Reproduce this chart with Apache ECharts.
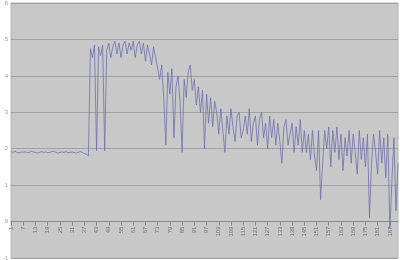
<!DOCTYPE html>
<html><head><meta charset="utf-8">
<script src="https://cdn.jsdelivr.net/npm/echarts@6/dist/echarts.min.js"></script>
<style>html,body{margin:0;padding:0;background:#fff}#c{width:400px;height:260px}</style>
</head><body><div id="c"></div>
<script>
const seg1 = [1.92,1.9,1.93,1.9,1.88,1.91,1.9,1.92,1.89,1.9,1.93,1.91,1.9,1.88,1.9,1.92,1.9,1.91,1.89,1.9,1.92,1.93,1.9,1.88,1.9,1.91,1.9,1.92,1.89,1.9,1.91,1.9,1.88,1.9,1.92,1.9,1.87,1.85,1.8];
const seg2 = [4.75,4.5,4.85,1.95,4.8,4.55,4.85,1.95,4.7,4.9,4.5,4.8,4.95,4.6,4.9,4.5,4.85,4.95,4.6,4.9,4.7,4.95,4.5,4.85,4.95,4.6,4.9,4.4,4.85,4.6,4.3,4.8,4.5,4.2];
const seg3 = [3.9,4.3,3.4,2.1,4.1,3.5,4.2,2.3,3.7,4.0,3.3,1.9,3.9,3.4,4.1,4.3,3.6,3.9,3.2,3.7,3.0,3.6,2.0,3.5,2.7,3.4,2.6,3.3];
const seg4 = [3.0,2.4,3.1,2.5,1.9,2.9,2.4,3.1,2.6,2.2,2.9,3.0,2.3,2.5,2.9,2.4,3.1,2.2,2.7,2.9,2.1,2.8,3.0,2.3,2.7,2.0,2.9,2.3,2.8,2.1,2.7,2.2,1.6,2.6,2.8,2.1,2.4,2.7,1.9,2.6,2.1,2.8,1.9];
const seg5 = [2.5,1.9,2.4,1.7,2.5,1.8,1.4,2.5,0.6,1.6,2.5,2.0,2.6,1.5,2.5,1.9,2.6,1.7,2.4,1.4,2.3,1.8,2.5,1.6,2.4,1.9,1.3,2.5,1.7,2.3,1.5,2.4,0.1,1.6,2.4,1.9,1.3,2.5,1.6,2.3,1.2,2.4,-0.2,1.1,2.3,0.3,1.6];
const values = seg1.concat(seg2, seg3, seg4, seg5);
const categories = values.map((v, i) => String(i + 1));
const yMin = -1, yMax = 6, yStep = 1;

const chart = echarts.init(document.getElementById('c'), null, {renderer: 'canvas'});
chart.setOption({
  animation: false,
  backgroundColor: '#ffffff',
  grid: {left: 11, right: 2, top: 3, bottom: 2, outerBoundsMode: 'none', containLabel: false,
         show: true, backgroundColor: '#c8c8c8', borderColor: '#b4b4b4', borderWidth: 1},
  xAxis: {
    type: 'category', data: categories, boundaryGap: false,
    offset: -36.4,
    axisLine: {onZero: false, lineStyle: {color: '#8a8a8a', width: 1}},
    axisTick: {show: true, interval: 5, length: 4, lineStyle: {color: '#8a8a8a'}},
    axisLabel: {interval: 5, rotate: 90, fontSize: 6, color: '#707070', margin: 5, fontFamily: 'Liberation Sans', hideOverlap: false},
    splitLine: {show: false}
  },
  yAxis: {
    type: 'value', min: yMin, max: yMax, interval: yStep,
    axisLine: {show: false}, axisTick: {show: false},
    axisLabel: {fontSize: 6, color: '#9a9a9a', margin: 3, fontFamily: 'Liberation Sans'},
    splitLine: {show: true, lineStyle: {color: '#a2a2a2', width: 1}}
  },
  series: [{
    type: 'line', data: values, symbol: 'none',
    lineStyle: {color: '#7070b0', width: 1, opacity: 0.8}
  }]
});
</script></body></html>
